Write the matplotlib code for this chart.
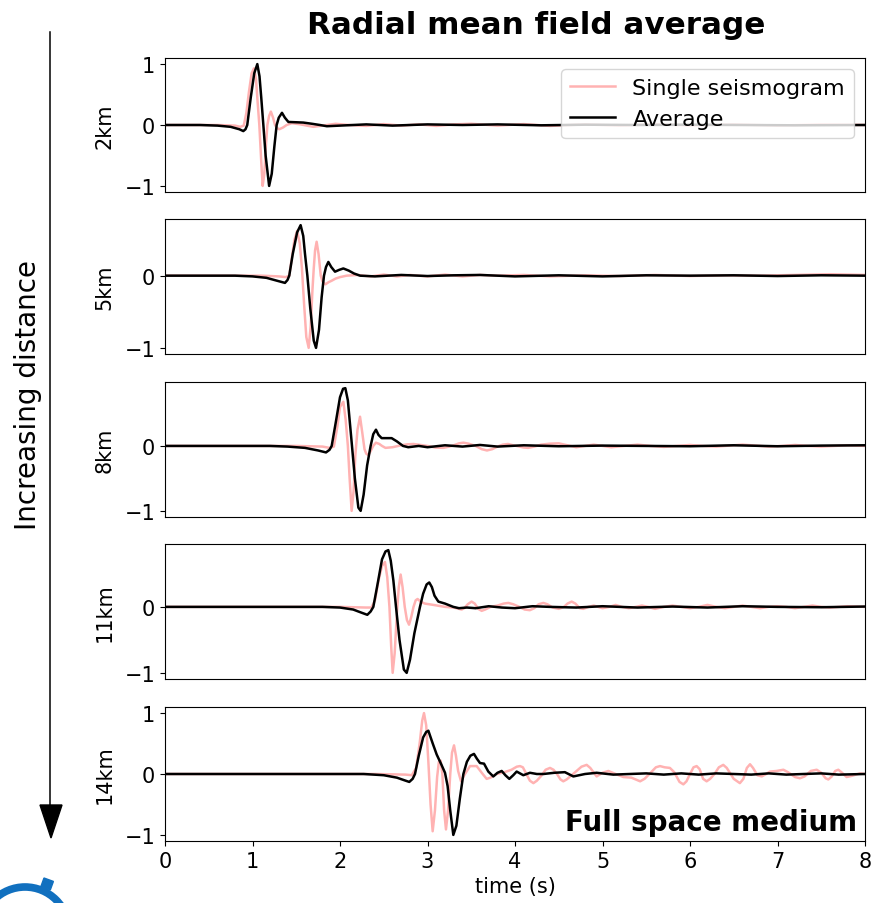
import numpy as np
import matplotlib
matplotlib.use("Agg")
import matplotlib.pyplot as plt
from matplotlib.patches import Ellipse, Rectangle
from matplotlib.ticker import MultipleLocator

# distances shown top to bottom
distances = ["2km", "5km", "8km", "11km", "14km"]

# (time [s], normalised amplitude)
avg_2km = [(0, 0), (0.4, 0), (0.6, -0.01), (0.75, -0.03), (0.85, -0.07), (0.895, -0.10),
           (0.92, -0.07), (0.94, 0.0), (0.98, 0.45), (1.02, 0.85), (1.055, 1.0), (1.08, 0.8),
           (1.10, 0.45), (1.124, 0.0), (1.15, -0.5), (1.19, -1.0), (1.22, -0.8), (1.25, -0.35),
           (1.276, 0.0), (1.30, 0.12), (1.337, 0.2), (1.37, 0.12), (1.41, 0.05), (1.50, 0.045),
           (1.58, 0.04), (1.68, 0.02), (1.77, 0.0), (1.85, -0.02), (2.0, -0.01), (2.3, 0.01),
           (2.6, -0.01), (3.0, 0.01), (3.4, 0.0), (3.8, 0.01), (4.3, -0.005), (4.8, 0.005),
           (5.4, 0.0), (6.0, 0.005), (6.6, 0.0), (7.2, -0.005), (8.0, 0.0)]
one_2km = [(0, 0), (0.6, 0), (0.8, -0.01), (0.86, -0.03), (0.9, -0.01), (0.93, 0.2),
           (0.96, 0.55), (0.99, 0.85), (1.017, 0.93), (1.04, 0.75), (1.06, 0.35), (1.078, 0.0),
           (1.10, -0.6), (1.116, -1.0), (1.135, -0.8), (1.155, -0.3), (1.17, 0.0), (1.19, 0.15),
           (1.21, 0.22), (1.235, 0.12), (1.257, 0.0), (1.28, -0.05), (1.307, -0.07), (1.35, -0.04),
           (1.39, 0.0), (1.45, 0.03), (1.55, 0.01), (1.62, -0.01), (1.695, -0.03), (1.8, -0.01),
           (1.95, 0.02), (2.1, 0.0), (2.3, -0.015), (2.5, 0.015), (2.7, -0.01), (2.9, 0.01),
           (3.1, -0.015), (3.3, 0.01), (3.5, 0.02), (3.8, -0.01), (4.1, 0.015), (4.4, -0.015),
           (4.8, 0.01), (5.2, -0.01), (5.6, 0.015), (6.0, -0.01), (6.5, 0.01), (7.0, -0.01),
           (7.5, 0.01), (8.0, 0.0)]

avg_5km = [(0, 0), (0.8, 0), (1.0, -0.01), (1.16, -0.03), (1.28, -0.07), (1.371, -0.10),
           (1.40, -0.06), (1.42, 0.0), (1.46, 0.3), (1.51, 0.6), (1.55, 0.70), (1.58, 0.55),
           (1.60, 0.3), (1.627, 0.0), (1.66, -0.45), (1.70, -0.9), (1.726, -1.0), (1.76, -0.75),
           (1.79, -0.3), (1.817, 0.0), (1.84, 0.12), (1.867, 0.19), (1.90, 0.12), (1.943, 0.055),
           (1.99, 0.08), (2.038, 0.10), (2.10, 0.07), (2.16, 0.03), (2.23, 0.0), (2.4, -0.01),
           (2.7, 0.01), (3.0, -0.005), (3.3, 0.005), (3.6, 0.01), (4.0, -0.01), (4.5, 0.005),
           (5.0, -0.01), (5.5, 0.005), (6.0, 0.0), (6.5, 0.005), (7.0, -0.005), (7.5, 0.005),
           (8.0, 0.0)]
one_5km = [(0, 0), (1.1, 0), (1.3, -0.01), (1.38, -0.02), (1.42, 0.0), (1.45, 0.25),
           (1.48, 0.5), (1.51, 0.62), (1.54, 0.45), (1.565, 0.1), (1.59, -0.4), (1.615, -0.85),
           (1.642, -1.0), (1.665, -0.7), (1.685, -0.2), (1.70, 0.1), (1.715, 0.35), (1.733, 0.47),
           (1.755, 0.3), (1.78, 0.0), (1.80, -0.08), (1.833, -0.12), (1.87, -0.09), (1.905, -0.07),
           (1.95, -0.04), (2.0, -0.02), (2.076, 0.0), (2.2, 0.01), (2.35, -0.01), (2.5, 0.015),
           (2.65, -0.01), (2.8, 0.01), (3.0, -0.01), (3.2, 0.015), (3.4, -0.01), (3.6, 0.01),
           (3.8, 0.0), (4.1, 0.01), (4.4, -0.01), (4.8, 0.005), (5.2, -0.005), (5.6, 0.01),
           (6.0, -0.005), (6.4, 0.005), (6.8, 0.0), (7.2, 0.01), (7.6, 0.02), (8.0, 0.01)]

avg_8km = [(0, 0), (1.2, 0), (1.4, -0.01), (1.6, -0.03), (1.75, -0.07), (1.84, -0.10),
           (1.88, -0.06), (1.905, 0.0), (1.95, 0.35), (2.0, 0.75), (2.035, 0.88), (2.061, 0.89),
           (2.09, 0.7), (2.11, 0.4), (2.137, 0.0), (2.17, -0.5), (2.21, -0.95), (2.236, -1.0),
           (2.27, -0.75), (2.31, -0.3), (2.35, 0.0), (2.38, 0.18), (2.411, 0.25), (2.44, 0.17),
           (2.476, 0.12), (2.53, 0.12), (2.59, 0.12), (2.65, 0.07), (2.72, 0.0), (2.78, -0.02),
           (2.9, 0.0), (3.0, -0.02), (3.2, 0.01), (3.4, -0.01), (3.6, 0.015), (3.8, -0.01),
           (4.1, 0.01), (4.5, -0.005), (5.0, 0.005), (5.5, 0.0), (6.0, -0.005), (6.5, 0.01),
           (7.0, -0.005), (7.5, 0.005), (8.0, 0.01)]
one_8km = [(0, 0), (1.5, 0), (1.8, -0.01), (1.88, -0.03), (1.93, -0.01), (1.97, 0.3),
           (2.0, 0.6), (2.038, 0.68), (2.065, 0.4), (2.09, 0.0), (2.11, -0.5), (2.133, -1.0),
           (2.155, -0.7), (2.175, -0.15), (2.20, 0.25), (2.229, 0.45), (2.255, 0.2), (2.28, -0.05),
           (2.30, -0.12), (2.324, -0.14), (2.35, -0.08), (2.38, 0.0), (2.41, 0.05), (2.45, 0.03),
           (2.48, 0.0), (2.52, -0.03), (2.6, -0.02), (2.7, 0.01), (2.77, 0.025), (2.84, 0.03),
           (2.92, 0.015), (3.0, 0.0), (3.09, -0.025), (3.18, -0.03), (3.25, -0.01), (3.3, 0.01),
           (3.36, 0.04), (3.41, 0.05), (3.47, 0.035), (3.55, 0.0), (3.62, -0.05), (3.68, -0.07),
           (3.74, -0.05), (3.8, -0.01), (3.86, 0.02), (3.92, 0.03), (3.98, 0.01), (4.05, -0.01),
           (4.1, -0.025), (4.15, -0.03), (4.22, -0.01), (4.3, 0.02), (4.4, 0.035), (4.5, 0.04),
           (4.6, 0.01), (4.7, -0.02), (4.8, 0.0), (4.9, 0.02), (5.0, 0.0), (5.1, -0.02),
           (5.25, 0.0), (5.4, 0.02), (5.55, 0.0), (5.7, -0.015), (5.85, 0.0), (6.0, 0.015),
           (6.15, 0.0), (6.3, -0.01), (6.45, 0.005), (6.6, 0.02), (6.75, 0.005), (6.9, -0.01),
           (7.05, 0.0), (7.2, 0.015), (7.35, 0.0), (7.5, -0.01), (7.65, 0.0), (7.8, 0.01),
           (8.0, 0.0)]

avg_11km = [(0, 0), (1.8, 0), (2.0, -0.01), (2.15, -0.04), (2.25, -0.09), (2.312, -0.12),
            (2.35, -0.07), (2.381, 0.0), (2.43, 0.35), (2.48, 0.72), (2.52, 0.84), (2.552, 0.86),
            (2.58, 0.7), (2.61, 0.4), (2.64, 0.0), (2.68, -0.5), (2.73, -0.95), (2.762, -1.0),
            (2.80, -0.8), (2.85, -0.4), (2.914, 0.0), (2.95, 0.2), (2.99, 0.34), (3.02, 0.37),
            (3.05, 0.3), (3.08, 0.17), (3.124, 0.08), (3.2, 0.05), (3.295, 0.0), (3.36, -0.02),
            (3.45, -0.01), (3.55, -0.02), (3.7, 0.01), (3.85, -0.01), (4.0, -0.02), (4.2, 0.01),
            (4.4, 0.0), (4.7, -0.01), (5.0, 0.01), (5.4, -0.01), (5.8, 0.005), (6.2, -0.01),
            (6.6, 0.01), (7.0, 0.0), (7.5, -0.005), (8.0, 0.005)]
one_11km = [(0, 0), (2.0, 0), (2.3, -0.01), (2.36, -0.01), (2.40, 0.1), (2.44, 0.4),
            (2.48, 0.62), (2.514, 0.68), (2.54, 0.45), (2.565, 0.0), (2.585, -0.6), (2.602, -1.0),
            (2.625, -0.7), (2.65, -0.1), (2.672, 0.3), (2.693, 0.49), (2.715, 0.3), (2.74, 0.0),
            (2.765, -0.2), (2.789, -0.27), (2.815, -0.15), (2.84, 0.0), (2.865, 0.1), (2.887, 0.12),
            (2.92, 0.08), (2.97, 0.05), (3.067, 0.03), (3.2, 0.0), (3.3, -0.01), (3.39, -0.04),
            (3.42, -0.02), (3.46, 0.04), (3.504, 0.08), (3.54, 0.05), (3.58, -0.03), (3.619, -0.06),
            (3.66, -0.04), (3.72, 0.0), (3.8, 0.02), (3.87, 0.05), (3.924, 0.06), (3.98, 0.04),
            (4.05, 0.0), (4.11, -0.04), (4.17, -0.05), (4.22, -0.02), (4.27, 0.04), (4.324, 0.06),
            (4.37, 0.04), (4.43, -0.01), (4.5, -0.03), (4.56, 0.0), (4.6, 0.05), (4.648, 0.08),
            (4.69, 0.05), (4.74, -0.02), (4.78, -0.03), (4.84, 0.0), (4.9, 0.02), (4.95, 0.0),
            (5.0, -0.02), (5.08, 0.0), (5.15, 0.03), (5.22, 0.0), (5.3, -0.02), (5.38, 0.0),
            (5.45, 0.02), (5.52, 0.0), (5.6, -0.03), (5.7, 0.0), (5.8, 0.02), (5.9, 0.0),
            (6.0, -0.02), (6.1, 0.0), (6.2, 0.03), (6.3, 0.0), (6.4, -0.02), (6.5, 0.0),
            (6.6, 0.02), (6.7, 0.0), (6.8, -0.02), (6.9, 0.0), (7.0, 0.01), (7.1, 0.0),
            (7.2, -0.02), (7.3, 0.0), (7.4, 0.02), (7.5, 0.0), (7.6, -0.01), (7.7, 0.0),
            (7.8, 0.01), (8.0, 0.0)]

avg_14km = [(0, 0), (2.27, 0), (2.5, -0.02), (2.65, -0.06), (2.75, -0.11), (2.792, -0.13),
            (2.83, -0.08), (2.857, 0.0), (2.90, 0.3), (2.95, 0.6), (2.985, 0.69), (3.01, 0.71),
            (3.06, 0.5), (3.105, 0.32), (3.16, 0.15), (3.2, 0.02), (3.23, -0.2), (3.26, -0.6),
            (3.295, -1.0), (3.33, -0.85), (3.37, -0.4), (3.41, 0.0), (3.45, 0.2), (3.49, 0.3),
            (3.531, 0.33), (3.565, 0.25), (3.6, 0.18), (3.646, 0.17), (3.695, 0.04), (3.752, -0.04),
            (3.80, 0.02), (3.848, 0.05), (3.89, -0.02), (3.935, -0.08), (3.98, -0.02), (4.019, 0.04),
            (4.095, -0.02), (4.171, 0.02), (4.25, 0.0), (4.324, 0.0), (4.45, 0.02), (4.57, 0.03),
            (4.667, -0.04), (4.8, 0.0), (4.933, 0.02), (5.124, -0.01), (5.31, 0.0), (5.5, 0.01),
            (5.7, -0.01), (5.9, 0.01), (6.1, -0.01), (6.3, 0.01), (6.5, 0.0), (6.7, -0.01),
            (6.9, 0.01), (7.1, -0.01), (7.3, 0.0), (7.5, 0.01), (7.7, -0.01), (8.0, 0.0)]
one_14km = [(0, 0), (2.4, 0), (2.75, -0.01), (2.82, -0.02), (2.87, 0.1), (2.91, 0.5),
            (2.94, 0.88), (2.96, 1.0), (2.985, 0.8), (3.01, 0.2), (3.035, -0.5), (3.059, -0.94),
            (3.085, -0.6), (3.11, -0.05), (3.13, 0.2), (3.15, 0.22), (3.17, 0.0), (3.19, -0.6),
            (3.211, -0.91), (3.235, -0.6), (3.26, 0.0), (3.28, 0.35), (3.303, 0.47), (3.325, 0.3),
            (3.35, 0.05), (3.383, -0.12), (3.42, -0.02), (3.486, 0.13), (3.562, 0.13), (3.62, 0.02),
            (3.676, -0.08), (3.72, -0.06), (3.79, 0.0), (3.88, 0.03), (3.96, 0.07), (4.02, 0.12),
            (4.057, 0.13), (4.09, 0.11), (4.13, 0.0), (4.17, -0.11), (4.21, -0.15), (4.25, -0.11),
            (4.3, -0.03), (4.35, 0.07), (4.4, 0.10), (4.44, 0.07), (4.48, 0.0), (4.52, -0.09),
            (4.552, -0.12), (4.59, -0.09), (4.68, 0.02), (4.76, 0.12), (4.819, 0.15), (4.86, 0.10),
            (4.933, -0.04), (5.0, 0.02), (5.067, 0.05), (5.15, 0.0), (5.238, -0.05), (5.33, -0.06),
            (5.43, -0.12), (5.48, -0.08), (5.55, 0.02), (5.61, 0.11), (5.657, 0.13), (5.71, 0.11),
            (5.77, 0.10), (5.82, 0.03), (5.88, -0.13), (5.924, -0.17), (5.96, -0.12), (6.0, 0.0),
            (6.04, 0.11), (6.076, 0.13), (6.11, 0.08), (6.15, -0.08), (6.19, -0.12), (6.23, -0.08),
            (6.28, 0.0), (6.33, 0.11), (6.38, 0.15), (6.42, 0.10), (6.5, -0.08), (6.57, -0.15),
            (6.61, -0.08), (6.65, 0.10), (6.686, 0.16), (6.72, 0.10), (6.77, -0.02), (6.82, -0.04),
            (6.87, 0.0), (6.914, 0.04), (6.99, 0.05), (7.067, 0.07), (7.12, 0.03), (7.2, -0.05),
            (7.257, -0.07), (7.31, -0.04), (7.38, 0.05), (7.448, 0.07), (7.5, 0.02), (7.55, -0.07),
            (7.581, -0.09), (7.62, -0.04), (7.66, 0.05), (7.695, 0.07), (7.73, 0.03), (7.79, -0.05),
            (7.85, -0.03), (7.943, 0.01), (8.0, 0.0)]

averages = [avg_2km, avg_5km, avg_8km, avg_11km, avg_14km]
singles = [one_2km, one_5km, one_8km, one_11km, one_14km]

W, H = 874, 904
# panel top / bottom in pixels from top of the figure
panel_px = [(59, 193), (220, 355), (383, 518), (545, 680), (708, 842)]
left_px, right_px = 165, 865

fig = plt.figure(figsize=(W / 100, H / 100), dpi=100)

axes = []
for i, (top, bot) in enumerate(panel_px):
    ax = fig.add_axes([left_px / W, 1 - bot / H, (right_px - left_px) / W, (bot - top) / H])
    t1, y1 = np.array(singles[i]).T
    t2, y2 = np.array(averages[i]).T
    ax.plot(t1, y1, color="red", alpha=0.3, lw=1.8, solid_joinstyle="round",
            label="Single seismogram")
    ax.plot(t2, y2, color="black", lw=1.8, solid_joinstyle="round", label="Average")
    ax.set_xlim(0, 8)
    ax.yaxis.set_major_locator(MultipleLocator(1))
    ax.set_ylabel(distances[i], fontsize=15, labelpad=7)
    ax.tick_params(labelsize=15)
    if i < len(panel_px) - 1:
        ax.tick_params(axis="x", bottom=False, labelbottom=False)
    axes.append(ax)

axes[0].legend(loc="upper right", fontsize=16)
axes[-1].set_xticks(range(0, 9))
axes[-1].set_xlabel("time (s)", fontsize=15)
axes[-1].text(0.989, 0.08, "Full space medium", transform=axes[-1].transAxes,
              ha="right", va="baseline", fontsize=20, fontweight="bold")

fig.text(536 / W, 1 - 25 / H, "Radial mean field average", ha="center", va="center",
         fontsize=22.3, fontweight="bold")

# distance arrow on the left
fig.text(28 / W, 1 - 395 / H, "Increasing distance", rotation=90,
         ha="center", va="center", fontsize=20)
fig.add_artist(plt.Line2D([50 / W, 50 / W], [1 - 33 / H, 1 - 820 / H],
                          color="black", lw=1.1))
ax_arrow = fig.add_axes([0, 0, 1, 1], facecolor="none")
ax_arrow.set_axis_off()
ax_arrow.set_xlim(0, W)
ax_arrow.set_ylim(H, 0)
ax_arrow.fill([40, 62, 51], [806, 806, 839], color="black")

# partly visible logo ring at bottom-left
ax_arrow.add_patch(Ellipse((25, 932), 88, 88, fill=False, ec="#1170bf", lw=5.5))
ax_arrow.add_patch(Rectangle((44, 879), 10, 9, angle=20, color="#1170bf"))

fig.savefig("out.png", dpi=100)
